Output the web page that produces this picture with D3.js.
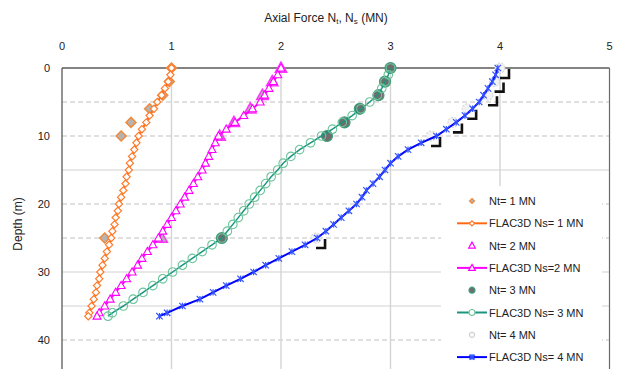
<!DOCTYPE html>
<html>
<head>
<meta charset="utf-8">
<script src="https://cdn.jsdelivr.net/npm/d3@7"></script>
<style>
body { margin: 0; background: #fff; }
svg { display: block; font-family: "Liberation Sans", Arial, sans-serif; }
</style>
</head>
<body>
<script>
// size of the picture
var width = 619;
var height = 369;

// depths of the FLAC3D output (m)
var depth = [0,1,2,3,4,5,6,7,8,9,10,11,12,13,14,15,16,17,18,19,20,21,22,23,24,25,26,27,28,29,30,31,32,33,34,35,36,36.5];

// FLAC3D axial force Ns (MN)
var ns1 = [1.00,0.99,0.97,0.94,0.91,0.87,0.84,0.80,0.77,0.73,0.70,0.68,0.66,0.64,0.62,0.61,0.59,0.58,0.56,0.54,0.52,0.51,0.49,0.48,0.46,0.45,0.43,0.41,0.39,0.37,0.35,0.34,0.32,0.31,0.29,0.27,0.25,0.24];
var ns2 = [2.00,1.97,1.93,1.89,1.85,1.81,1.74,1.66,1.58,1.50,1.43,1.40,1.37,1.34,1.31,1.28,1.24,1.20,1.16,1.12,1.08,1.04,1.00,0.96,0.92,0.88,0.83,0.78,0.73,0.69,0.64,0.59,0.54,0.49,0.44,0.39,0.34,0.32];
var ns3 = [3.00,2.98,2.95,2.92,2.88,2.81,2.73,2.65,2.56,2.47,2.37,2.27,2.17,2.09,2.02,1.97,1.91,1.86,1.81,1.76,1.71,1.66,1.61,1.56,1.51,1.46,1.37,1.28,1.19,1.10,1.01,0.92,0.83,0.74,0.65,0.56,0.46,0.42];
var ns4 = [3.98,3.96,3.93,3.89,3.85,3.81,3.75,3.68,3.60,3.51,3.42,3.28,3.16,3.07,3.00,2.95,2.90,2.84,2.78,2.74,2.69,2.62,2.55,2.48,2.41,2.33,2.22,2.10,1.98,1.86,1.75,1.63,1.50,1.38,1.26,1.10,0.96,0.89];

// measured axial force Nt (MN)
var ntDepth = [0,2,4,6,8,10,25];
var nt1 = [1.00,0.98,0.92,0.80,0.63,0.54,0.39];
var nt2 = [2.00,1.92,1.83,1.72,1.57,1.44,0.91];
var nt3 = [3.00,2.95,2.89,2.72,2.58,2.42,1.46];
var nt4 = [4.00,3.95,3.89,3.70,3.57,3.37,2.32];

var xTicks = [0,1,2,3,4,5];
var yTicks = [0,10,20,30,40];
var gridDepths = [5,10,15,20,25,30,35,40];
var dashedDepths = [5,10,20,25,40];

var legendLabels = ["Nt= 1 MN","FLAC3D Ns= 1 MN","Nt= 2 MN","FLAC3D Ns=2 MN","Nt= 3 MN","FLAC3D Ns= 3 MN","Nt= 4 MN","FLAC3D Ns= 4 MN"];

var svg = d3.select("body")
  .append("svg")
  .attr("width", width)
  .attr("height", height);

var x = d3.scaleLinear().domain([0, 5]).range([62, 609.5]);
var y = d3.scaleLinear().domain([0, 45]).range([68, 374]);

// marker shapes
function diamond(s) { return "M0," + (-s) + "L" + s + ",0L0," + s + "L" + (-s) + ",0Z"; }
function triangle(s) { return "M0," + (-s) + "L" + (s * 0.95) + "," + (s * 0.7) + "L" + (-s * 0.95) + "," + (s * 0.7) + "Z"; }
function circle(r) { return "M" + r + ",0A" + r + "," + r + " 0 1,1 " + (-r) + ",0A" + r + "," + r + " 0 1,1 " + r + ",0Z"; }
function asterisk(s) { return "M" + (-s) + "," + (-s) + "L" + s + "," + s + "M" + (-s) + "," + s + "L" + s + "," + (-s) + "M0," + (-s) + "L0," + s; }

// grid
var grid = svg.append("g");
grid.selectAll(".hgrid")
  .data(gridDepths)
  .join("line")
    .attr("class", "hgrid")
    .attr("x1", x(0)).attr("x2", x(5))
    .attr("y1", d => y(d)).attr("y2", d => y(d))
    .attr("stroke", d => dashedDepths.indexOf(d) >= 0 ? "#d6d6d6" : "#e0e0e0")
    .attr("stroke-width", 1.5)
    .attr("stroke-dasharray", d => dashedDepths.indexOf(d) >= 0 ? "5,3" : null);

grid.selectAll(".vgrid")
  .data([1,2,3,4])
  .join("line")
    .attr("class", "vgrid")
    .attr("x1", d => x(d)).attr("x2", d => x(d))
    .attr("y1", y(0)).attr("y2", height)
    .attr("stroke", "#d4d4d4")
    .attr("stroke-width", 1.4);

// frame
svg.append("line").attr("x1", x(0)).attr("x2", x(5)).attr("y1", y(0)).attr("y2", y(0)).attr("stroke", "#5a5a5a").attr("stroke-width", 1.3);
svg.append("line").attr("x1", x(0)).attr("x2", x(0)).attr("y1", y(0)).attr("y2", height).attr("stroke", "#5a5a5a").attr("stroke-width", 1.3);
svg.append("line").attr("x1", x(5)).attr("x2", x(5)).attr("y1", y(0)).attr("y2", height).attr("stroke", "#6a6a6a").attr("stroke-width", 1.2);

// tick labels
svg.append("g").selectAll("text")
  .data(xTicks)
  .join("text")
    .attr("x", d => x(d))
    .attr("y", 50)
    .attr("text-anchor", "middle")
    .attr("font-size", 11)
    .attr("fill", "#222")
    .text(d => d);

svg.append("g").selectAll("text")
  .data(yTicks)
  .join("text")
    .attr("x", 50)
    .attr("y", d => y(d) + 4)
    .attr("text-anchor", "end")
    .attr("font-size", 11)
    .attr("fill", "#222")
    .text(d => d);

// axis titles
var title = svg.append("text")
  .attr("x", 326)
  .attr("y", 22)
  .attr("text-anchor", "middle")
  .attr("font-size", 12)
  .attr("fill", "#222");
title.append("tspan").text("Axial Force N");
title.append("tspan").attr("font-size", 8).attr("dy", 2).text("t");
title.append("tspan").attr("dy", -2).text(", N");
title.append("tspan").attr("font-size", 8).attr("dy", 2).text("s");
title.append("tspan").attr("dy", -2).text(" (MN)");

svg.append("text")
  .attr("transform", "translate(22,224) rotate(-90)")
  .attr("text-anchor", "middle")
  .attr("font-size", 12)
  .attr("fill", "#222")
  .text("Depth (m)");

// series
var series = [
  { vals: ns1, line: "#ff6a13", width: 2.2, shape: diamond(3.6), mstroke: "#ff7a2a", mfill: "#fff", mw: 1.2 },
  { vals: ns2, line: "#ff00ff", width: 2, shape: triangle(4.2), mstroke: "#ff00ff", mfill: "#fff", mw: 1.1 },
  { vals: ns3, line: "#1a9580", width: 1.5, shape: circle(4.3), mstroke: "#6cc49a", mfill: "none", mw: 1.1 },
  { vals: ns4, line: "#0000ff", width: 2, shape: asterisk(3.2), mstroke: "#3355ff", mfill: "none", mw: 1.2 }
];

var line = d3.line()
  .x(d => x(d[1]))
  .y(d => y(d[0]));

// measured points
var measured = [
  { vals: nt1, shape: diamond(5), stroke: "#f08a3c", fill: "#b4b4b4", sw: 1.5 },
  { vals: nt2, shape: triangle(6), stroke: "#ff33ff", fill: "#b4b4b4", sw: 1.5 },
  { vals: nt3, shape: circle(5.5), stroke: "#3f9f7a", fill: "#6e6e6e", sw: 1.2 }
];

// Nt = 4 shadows, drawn under the lines
svg.append("g").selectAll("path")
  .data(ntDepth.map((d, i) => [d, nt4[i]]))
  .join("path")
    .attr("transform", d => "translate(" + x(d[1]) + "," + y(d[0]) + ")")
    .attr("d", "M0,10L9,10L9,1")
    .attr("fill", "none")
    .attr("stroke", "#111")
    .attr("stroke-width", 2.6);

svg.append("g").selectAll("path")
  .data(ntDepth.map((d, i) => [d, nt4[i]]))
  .join("path")
    .attr("transform", d => "translate(" + x(d[1]) + "," + y(d[0]) + ")")
    .attr("d", circle(5))
    .attr("fill", "#f2f2f2")
    .attr("stroke", "#d0d0d0")
    .attr("stroke-width", 1)
    .attr("stroke-dasharray", "2,1.5");

measured.forEach(m => {
  svg.append("g").selectAll("path")
    .data(ntDepth.map((d, i) => [d, m.vals[i]]))
    .join("path")
      .attr("transform", d => "translate(" + x(d[1]) + "," + y(d[0]) + ")")
      .attr("d", m.shape)
      .attr("fill", m.fill)
      .attr("stroke", m.stroke)
      .attr("stroke-width", m.sw);
});

series.forEach(s => {
  var pts = depth.map((d, i) => [d, s.vals[i]]);
  svg.append("path")
    .datum(pts)
    .attr("d", line)
    .attr("fill", "none")
    .attr("stroke", s.line)
    .attr("stroke-width", s.width);
  svg.append("g").selectAll("path")
    .data(pts)
    .join("path")
      .attr("transform", d => "translate(" + x(d[1]) + "," + y(d[0]) + ")")
      .attr("d", s.shape)
      .attr("fill", s.mfill)
      .attr("stroke", s.mstroke)
      .attr("stroke-width", s.mw);
});

// legend
var legend = svg.append("g");
legend.append("rect")
  .attr("x", 441).attr("y", 186)
  .attr("width", 161).attr("height", height - 186)
  .attr("fill", "#fff");

var legendMarks = [
  { shape: diamond(2.5), stroke: "#f08a3c", fill: "#b4b4b4", line: null },
  { shape: diamond(2.5), stroke: "#ff7a2a", fill: "#fff", line: "#ff6a13" },
  { shape: triangle(3.5), stroke: "#ff00ff", fill: "#fff", line: null },
  { shape: triangle(3.5), stroke: "#ff00ff", fill: "#fff", line: "#ff00ff" },
  { shape: circle(3), stroke: "#3f9f7a", fill: "#6e6e6e", line: null },
  { shape: circle(3), stroke: "#6cc49a", fill: "#fff", line: "#1a9580" },
  { shape: circle(2.5), stroke: "#d0d0d0", fill: "#fff", line: null },
  { shape: asterisk(2.5), stroke: "#3355ff", fill: "none", line: "#0000ff" }
];

var rows = legend.selectAll(".row")
  .data(legendLabels)
  .join("g")
    .attr("class", "row")
    .attr("transform", (d, i) => "translate(0," + (201 + i * 22.3) + ")");

rows.each(function (d, i) {
  var g = d3.select(this);
  var m = legendMarks[i];
  if (m.line) {
    g.append("line").attr("x1", 457).attr("x2", 487).attr("y1", 0).attr("y2", 0)
      .attr("stroke", m.line).attr("stroke-width", 2);
  }
  g.append("path")
    .attr("transform", "translate(472,0)")
    .attr("d", m.shape)
    .attr("fill", m.fill)
    .attr("stroke", m.stroke)
    .attr("stroke-width", i == 7 ? 2 : 1.2);
  g.append("text")
    .attr("x", 489)
    .attr("y", 4)
    .attr("font-size", 11)
    .attr("fill", "#222")
    .text(d);
});
</script>
</body>
</html>
